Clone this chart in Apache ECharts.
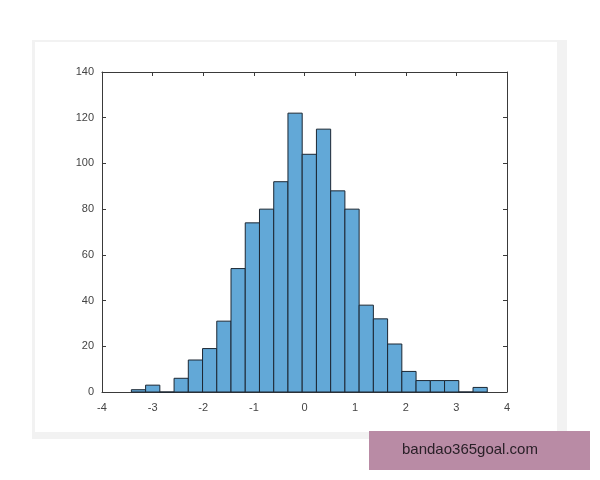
<!DOCTYPE html>
<html>
<head>
<meta charset="utf-8">
<script src="https://cdn.jsdelivr.net/npm/echarts@6/dist/echarts.min.js"></script>
<style>html,body{margin:0;padding:0;background:#fff}#c{width:600px;height:480px}</style>
</head>
<body>
<div id="c"></div>
<script>
var binStart = -3.42;
var binWidth = 0.2812;
var counts = [1, 3, 0, 6, 14, 19, 31, 54, 74, 80, 92, 122, 104, 115, 88, 80, 38, 32, 21, 9, 5, 5, 5, 0, 2];
var xTicks = [-4, -3, -2, -1, 0, 1, 2, 3, 4];
var yTicks = [0, 20, 40, 60, 80, 100, 120, 140];
var watermark = 'bandao365goal.com';

var data = counts.map(function (c, i) {
  var a = binStart + i * binWidth;
  return [a, a + binWidth, c];
});

var chart = echarts.init(document.getElementById('c'), null, {renderer: 'canvas'});
var axisCol = '#3a3a3a';
var labelStyle = {fontFamily: 'Liberation Sans, Arial, sans-serif', fontSize: 11, color: '#444'};

function baseX(pos, showLabel) {
  return {
    type: 'value', position: pos, min: xTicks[0], max: xTicks[xTicks.length - 1], interval: 1,
    axisLine: {show: true, onZero: false, lineStyle: {color: axisCol, width: 1}},
    axisTick: {show: true, inside: true, length: 4, lineStyle: {color: axisCol}},
    axisLabel: Object.assign({show: showLabel, margin: 10}, labelStyle),
    splitLine: {show: false}
  };
}
function baseY(pos, showLabel) {
  return {
    type: 'value', position: pos, min: yTicks[0], max: yTicks[yTicks.length - 1], interval: 20,
    axisLine: {show: true, onZero: false, lineStyle: {color: axisCol, width: 1}},
    axisTick: {show: true, inside: true, length: 4, lineStyle: {color: axisCol}},
    axisLabel: Object.assign({show: showLabel, margin: 8}, labelStyle),
    splitLine: {show: false}
  };
}

chart.setOption({
  animation: false,
  backgroundColor: '#fff',
  graphic: [
    {type: 'rect', z: -10, shape: {x: 32, y: 40, width: 535, height: 399}, style: {fill: '#f2f2f2'}, silent: true},
    {type: 'rect', z: -9, shape: {x: 35, y: 42, width: 522, height: 390}, style: {fill: '#ffffff'}, silent: true},
    {type: 'rect', z: 100, shape: {x: 369, y: 431, width: 221, height: 39}, style: {fill: '#b98ba5'}, silent: true},
    {type: 'text', z: 101, left: 402, top: 442, style: {text: watermark, fill: '#2a2028', font: '15px Liberation Sans, Arial, sans-serif'}, silent: true}
  ],
  grid: {left: 102, top: 72, width: 405, height: 320, containLabel: false},
  xAxis: [baseX('bottom', true), baseX('top', false)],
  yAxis: [baseY('left', true), baseY('right', false)],
  series: [{
    type: 'custom',
    xAxisIndex: 0, yAxisIndex: 0,
    data: data,
    renderItem: function (params, api) {
      var p0 = api.coord([api.value(0), 0]);
      var p1 = api.coord([api.value(1), api.value(2)]);
      return {
        type: 'rect',
        shape: {x: p0[0], y: p1[1], width: p1[0] - p0[0], height: p0[1] - p1[1]},
        style: {fill: '#62a8d7', stroke: '#1c2733', lineWidth: 1}
      };
    }
  }]
});
</script>
</body>
</html>
